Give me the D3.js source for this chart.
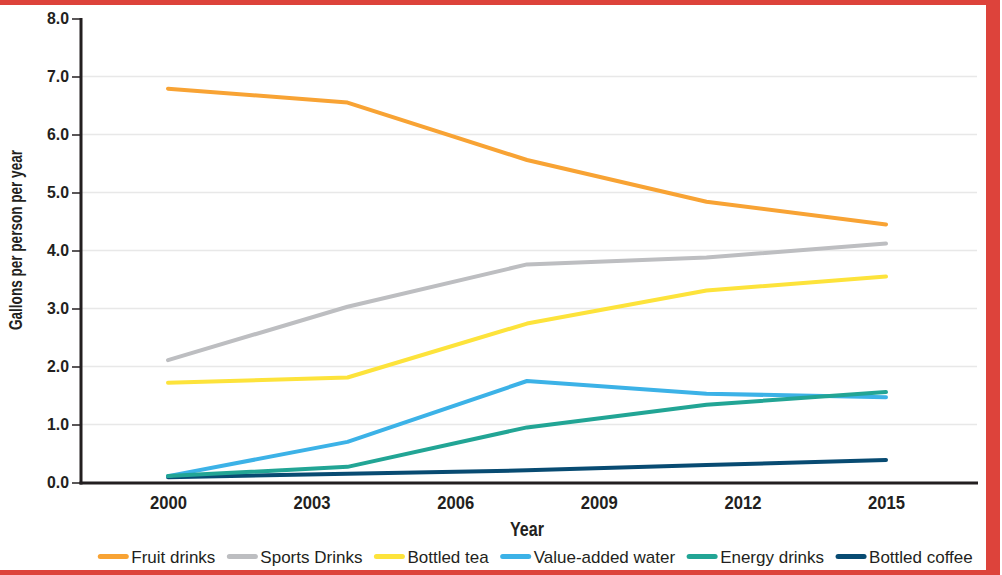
<!DOCTYPE html>
<html><head><meta charset="utf-8">
<script src="https://cdn.jsdelivr.net/npm/d3@7"></script>
<style>
html,body{margin:0;padding:0;background:#fff;}
svg{display:block;}
</style></head>
<body>
<svg id="chart" width="1002" height="575"></svg>
<script>
// ---- data ----
const dataYears = [2000, 2003.75, 2007.5, 2011.25, 2015];
const tickYears = [2000, 2003, 2006, 2009, 2012, 2015];
const yTicks = [0, 1, 2, 3, 4, 5, 6, 7, 8];
const seriesNames = ["Fruit drinks", "Sports Drinks", "Bottled tea", "Value-added water", "Energy drinks", "Bottled coffee"];
const fruitDrinks    = [6.79, 6.55, 5.56, 4.84, 4.45];
const sportsDrinks   = [2.11, 3.03, 3.76, 3.88, 4.12];
const bottledTea     = [1.72, 1.81, 2.74, 3.31, 3.55];
const valueAddedWater= [0.11, 0.70, 1.75, 1.53, 1.47];
const energyDrinks   = [0.11, 0.27, 0.95, 1.34, 1.56];
const bottledCoffee  = [0.09, 0.15, 0.21, 0.30, 0.39];
const seriesColors = ["#F8A334", "#BDBEC1", "#FDE33B", "#3CB2E7", "#22A595", "#084B72"];

const seriesValues = [fruitDrinks, sportsDrinks, bottledTea, valueAddedWater, energyDrinks, bottledCoffee];
const series = seriesNames.map((n, i) => ({name: n, color: seriesColors[i], values: seriesValues[i]}));

const svg = d3.select("#chart");
const W = 1002, H = 575;
const ink = "#231F20";
const condFont = "'Liberation Sans', Arial, sans-serif";

// red frame
svg.append("rect").attr("x", 0).attr("y", 0).attr("width", W).attr("height", H).attr("fill", "#fff");
svg.append("rect").attr("x", 0).attr("y", 0).attr("width", 1000).attr("height", 5).attr("fill", "#DD433B");
svg.append("rect").attr("x", 986).attr("y", 0).attr("width", 14).attr("height", H).attr("fill", "#DD433B");
svg.append("rect").attr("x", 0).attr("y", 570).attr("width", 1000).attr("height", 5).attr("fill", "#DD433B");

const x = d3.scaleLinear().domain([2000, 2015]).range([168, 886]);
const y = d3.scaleLinear().domain([0, 8]).range([482.5, 18.5]);
const xLeft = 81, xRight = 978;

// gridlines
svg.append("g").selectAll("line").data(yTicks.filter(t => t > 0 && t < 8)).join("line")
  .attr("x1", xLeft + 1).attr("x2", 977)
  .attr("y1", d => y(d)).attr("y2", d => y(d))
  .attr("stroke", "#E8E8E8").attr("stroke-width", 1.5);

// lines
const line = d3.line().x((d, i) => x(dataYears[i])).y(d => y(d));
const drawOrder = [0, 1, 2, 5, 3, 4];
svg.append("g").selectAll("path").data(drawOrder.map(i => series[i])).join("path")
  .attr("d", d => line(d.values))
  .attr("fill", "none").attr("stroke", d => d.color)
  .attr("stroke-width", 4).attr("stroke-linejoin", "round").attr("stroke-linecap", "round");

// y axis
const yAxis = d3.axisLeft(y).tickValues(yTicks).tickFormat(d3.format(".1f")).tickSize(9).tickPadding(3);
const gy = svg.append("g").attr("transform", `translate(${xLeft},0)`).call(yAxis);
gy.select(".domain").remove();
gy.selectAll(".tick line").attr("stroke", ink).attr("stroke-width", 1.5);
gy.selectAll(".tick text").attr("fill", ink)
  .attr("textLength", 22).attr("lengthAdjust", "spacingAndGlyphs")
  .style("font-family", condFont)
  .style("font-weight", "bold").style("font-size", "16.5px");
svg.append("line").attr("x1", xLeft).attr("x2", xLeft).attr("y1", y(8) - 0.5).attr("y2", 484.5)
  .attr("stroke", ink).attr("stroke-width", 3);

// x axis
const xAxis = d3.axisBottom(x).tickValues(tickYears).tickFormat(d3.format("d")).tickSize(0).tickPadding(13);
const gx = svg.append("g").attr("transform", `translate(0,483)`).call(xAxis);
gx.select(".domain").remove();
gx.selectAll(".tick text").attr("fill", ink)
  .attr("textLength", 37).attr("lengthAdjust", "spacingAndGlyphs")
  .style("font-family", condFont)
  .style("font-weight", "bold").style("font-size", "19px");
svg.append("line").attr("x1", xLeft - 1.5).attr("x2", xRight).attr("y1", 483).attr("y2", 483)
  .attr("stroke", ink).attr("stroke-width", 3);

// axis titles
svg.append("text").attr("x", 527).attr("y", 536).attr("text-anchor", "middle")
  .attr("textLength", 34).attr("lengthAdjust", "spacingAndGlyphs")
  .attr("fill", ink).style("font-family", condFont)
  .style("font-weight", "bold").style("font-size", "20px").text("Year");
svg.append("text").attr("transform", "translate(22,240) rotate(-90)").attr("text-anchor", "middle")
  .attr("textLength", 180).attr("lengthAdjust", "spacingAndGlyphs")
  .attr("fill", ink).style("font-family", condFont)
  .style("font-weight", "bold").style("font-size", "19px").text("Gallons per person per year");

// legend
const lg = svg.append("g");
const items = lg.selectAll("g").data(series).join("g");
items.append("line").attr("x1", 0).attr("x2", 26).attr("y1", 0).attr("y2", 0)
  .attr("stroke", d => d.color).attr("stroke-width", 5).attr("stroke-linecap", "round");
items.append("text").attr("x", 31).attr("y", 6).attr("fill", ink)
  .style("font-family", "'Liberation Sans', Arial, sans-serif").style("font-size", "17px")
  .text(d => d.name);
let cx = 0;
items.each(function () {
  const w = d3.select(this).select("text").node().getComputedTextLength();
  d3.select(this).attr("transform", `translate(${cx},0)`);
  cx += 31 + w + 14;
});
const total = cx - 14;
lg.attr("transform", `translate(${534.5 - total / 2 + 2},556.5)`);
</script>
</body></html>
